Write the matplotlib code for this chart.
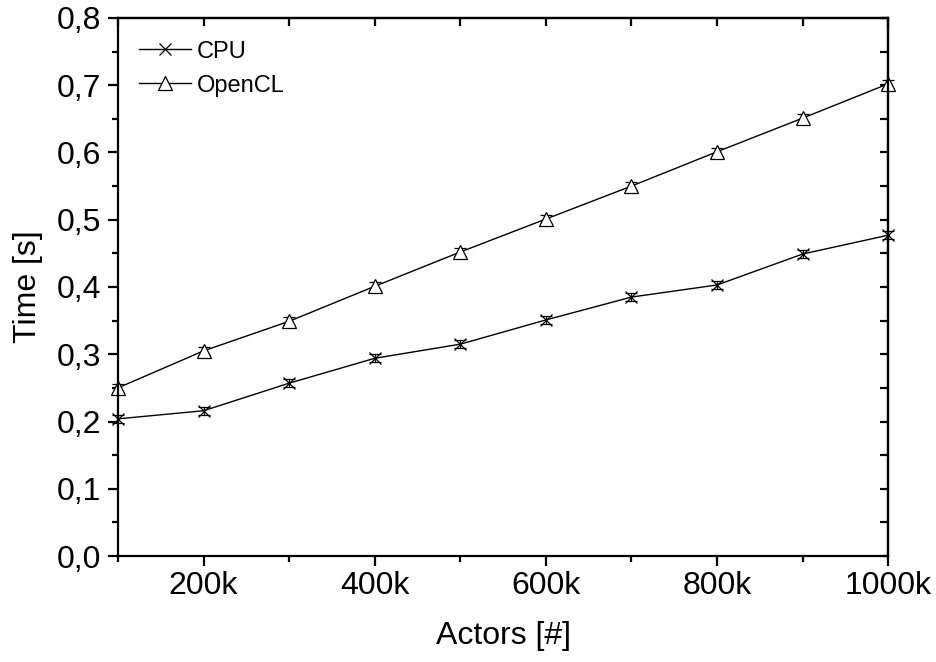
import matplotlib
matplotlib.use("Agg")
import matplotlib.pyplot as plt
from matplotlib.ticker import MultipleLocator, FuncFormatter
from matplotlib.lines import Line2D

plt.rcParams['font.family'] = ['Liberation Sans', 'DejaVu Sans']

actors = [100000, 200000, 300000, 400000, 500000, 600000, 700000, 800000, 900000, 1000000]
cpu = [0.204, 0.216, 0.257, 0.294, 0.315, 0.351, 0.385, 0.403, 0.449, 0.477]
opencl = [0.250, 0.305, 0.349, 0.401, 0.452, 0.501, 0.550, 0.601, 0.651, 0.702]
cpu_err = [0.006] * 10
opencl_err = [0.006] * 10

fig = plt.figure(figsize=(9.36, 6.62), dpi=100)
ax = fig.add_axes([0.126, 0.160, 0.823, 0.813])

ax.errorbar(actors, cpu, yerr=cpu_err, color='black', lw=1, marker='x', ms=9,
            mew=0.9, capsize=4, elinewidth=0.9, capthick=0.9, clip_on=False)
ax.errorbar(actors, opencl, yerr=opencl_err, color='black', lw=1, marker='^', ms=10,
            mfc='white', mew=0.9, capsize=4, elinewidth=0.9, capthick=0.9, clip_on=False)

ax.set_xlim(100000, 1000000)
ax.set_ylim(0.0, 0.8)
ax.xaxis.set_major_locator(MultipleLocator(200000))
ax.xaxis.set_minor_locator(MultipleLocator(100000))
ax.yaxis.set_major_locator(MultipleLocator(0.1))
ax.yaxis.set_minor_locator(MultipleLocator(0.05))
ax.xaxis.set_major_formatter(FuncFormatter(lambda v, p: f"{int(round(v/1000))}k"))
ax.yaxis.set_major_formatter(FuncFormatter(lambda v, p: f"{v:.1f}".replace('.', ',')))

for s in ax.spines.values():
    s.set_linewidth(1.6)

ax.tick_params(axis='both', which='both', direction='out', width=1.6, labelsize=23)
ax.tick_params(axis='both', which='major', length=7)
ax.tick_params(axis='both', which='minor', length=4)
ax.tick_params(axis='x', pad=4)
ax.tick_params(axis='y', pad=5)

axr = ax.secondary_yaxis('right')
axr.yaxis.set_major_locator(MultipleLocator(0.1))
axr.yaxis.set_minor_locator(MultipleLocator(0.05))
axr.tick_params(which='both', direction='in', width=1.6, length=6, labelright=False)
axt = ax.secondary_xaxis('top')
axt.xaxis.set_major_locator(MultipleLocator(200000))
axt.xaxis.set_minor_locator(MultipleLocator(100000))
axt.tick_params(which='both', direction='in', width=1.6, length=6, labeltop=False)
for a in (axr, axt):
    for s in a.spines.values():
        s.set_linewidth(1.6)

ax.set_xlabel('Actors [#]', fontsize=23, labelpad=14)
ax.set_ylabel('Time [s]', fontsize=23, labelpad=10)

handles = [Line2D([], [], color='black', lw=1, marker='x', ms=9, mew=0.9),
           Line2D([], [], color='black', lw=1, marker='^', ms=10, mfc='white', mew=0.9)]
ax.legend(handles, ['CPU', 'OpenCL'], loc='upper left', frameon=False, fontsize=17,
          handlelength=2.2, bbox_to_anchor=(0.0, 0.997), borderaxespad=0.5,
          labelspacing=0.5, handletextpad=0.25)

fig.savefig('out.png', dpi=100)
